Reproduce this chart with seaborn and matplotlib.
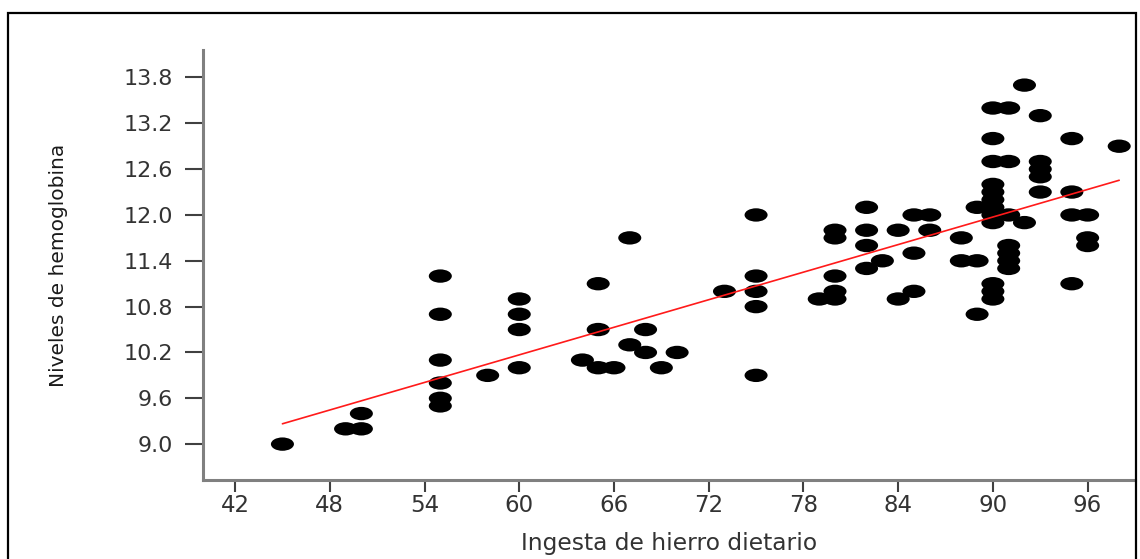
import numpy as np
import pandas as pd
import matplotlib
matplotlib.use("Agg")
import matplotlib.pyplot as plt
from matplotlib.path import Path
from matplotlib.transforms import Affine2D
from matplotlib.markers import MarkerStyle
from matplotlib.patches import Rectangle
from matplotlib import font_manager
import seaborn as sns

# ingesta de hierro (x) y hemoglobina (y)
iron = [45, 49, 50, 50,
        55, 55, 55, 55, 55, 55,
        58,
        60, 60, 60, 60,
        64, 65, 65, 65, 66, 67, 67, 68, 68, 69, 70, 73,
        75, 75, 75, 75, 75,
        79, 80, 80, 80, 80, 80,
        82, 82, 82, 82, 83, 84, 84, 85, 85, 85, 86, 86,
        88, 88, 89, 89, 89,
        90, 90, 90, 90, 90, 90, 90, 90, 90, 90, 90, 90,
        91, 91, 91, 91, 91, 91, 91,
        92, 92,
        93, 93, 93, 93, 93,
        95, 95, 95, 95,
        96, 96, 96,
        98]
hemoglobin = [9.0, 9.2, 9.2, 9.4,
              11.2, 10.7, 10.1, 9.8, 9.6, 9.5,
              9.9,
              10.9, 10.7, 10.5, 10.0,
              10.1, 10.0, 10.5, 11.1, 10.0, 11.7, 10.3, 10.5, 10.2, 10.0, 10.2, 11.0,
              12.0, 11.2, 11.0, 10.8, 9.9,
              10.9, 11.8, 11.7, 11.2, 11.0, 10.9,
              12.1, 11.8, 11.6, 11.3, 11.4, 11.8, 10.9, 12.0, 11.5, 11.0, 12.0, 11.8,
              11.7, 11.4, 12.1, 11.4, 10.7,
              13.4, 13.0, 12.7, 12.4, 12.3, 12.2, 12.1, 12.0, 11.9, 11.1, 11.0, 10.9,
              13.4, 12.7, 12.0, 11.6, 11.5, 11.4, 11.3,
              13.7, 11.9,
              13.3, 12.7, 12.6, 12.5, 12.3,
              13.0, 12.3, 12.0, 11.1,
              12.0, 11.7, 11.6,
              12.9]

x_ticks = [42, 48, 54, 60, 66, 72, 78, 84, 90, 96]
y_ticks = [9.0, 9.6, 10.2, 10.8, 11.4, 12.0, 12.6, 13.2, 13.8]
y_tick_labels = ["9.0", "9.6", "10.2", "10.8", "11.4", "12.0", "12.6", "13.2", "13.8"]

sns.set_style("ticks")
plt.rcParams["font.family"] = ["DejaVu Sans"]

installed = {f.name for f in font_manager.fontManager.ttflist}
if "Liberation Sans Narrow" in installed:
    ylab_font, ylab_size = ["Liberation Sans Narrow", "DejaVu Sans"], 19
else:
    ylab_font, ylab_size = ["DejaVu Sans"], 14.5

df = pd.DataFrame({"iron": iron, "hb": hemoglobin})

# puntos ovalados como en la figura original
ellipse = MarkerStyle(Path.unit_circle().transformed(Affine2D().scale(1.0, 0.58)))

fig = plt.figure(figsize=(11.4, 5.59), dpi=100)
ax = fig.add_axes([0.1785, 0.1413, 0.8171, 0.7693])

sns.scatterplot(data=df, x="iron", y="hb", marker=ellipse, s=275,
                color="black", edgecolor="none", linewidth=0, ax=ax, zorder=3)
sns.regplot(data=df, x="iron", y="hb", scatter=False, ci=None, truncate=True,
            line_kws={"color": "#ff1a1a", "lw": 1.2, "zorder": 4}, ax=ax)

ax.set_xlim(40, 99)
ax.set_ylim(8.53, 14.16)
ax.set_xticks(x_ticks)
ax.set_xticklabels([str(t) for t in x_ticks])
ax.set_yticks(y_ticks)
ax.set_yticklabels(y_tick_labels)

for side in ["top", "right"]:
    ax.spines[side].set_visible(False)
for side in ["left", "bottom"]:
    ax.spines[side].set_color("#808080")
    ax.spines[side].set_linewidth(2.2)

ax.tick_params(axis="x", length=8.6, width=1.5, color="#404040", pad=1.5,
               labelsize=16.5, labelcolor="#333333")
ax.tick_params(axis="y", length=13, width=1.5, color="#404040", pad=9,
               labelsize=16, labelcolor="#333333")

ax.set_xlabel("Ingesta de hierro dietario", fontsize=16.8, color="#333333")
ax.xaxis.set_label_coords(0.5, -0.122)
ax.set_ylabel("Niveles de hemoglobina", fontsize=ylab_size, color="#1a1a1a",
              family=ylab_font)
ax.yaxis.set_label_coords(-0.145, 0.5)

# marco negro alrededor de la figura
fig.add_artist(Rectangle((0.007, -0.1), 0.9895, 1.0767, transform=fig.transFigure,
                         fill=False, ec="black", lw=1.6, clip_on=False))

fig.savefig("out.png", dpi=100)
